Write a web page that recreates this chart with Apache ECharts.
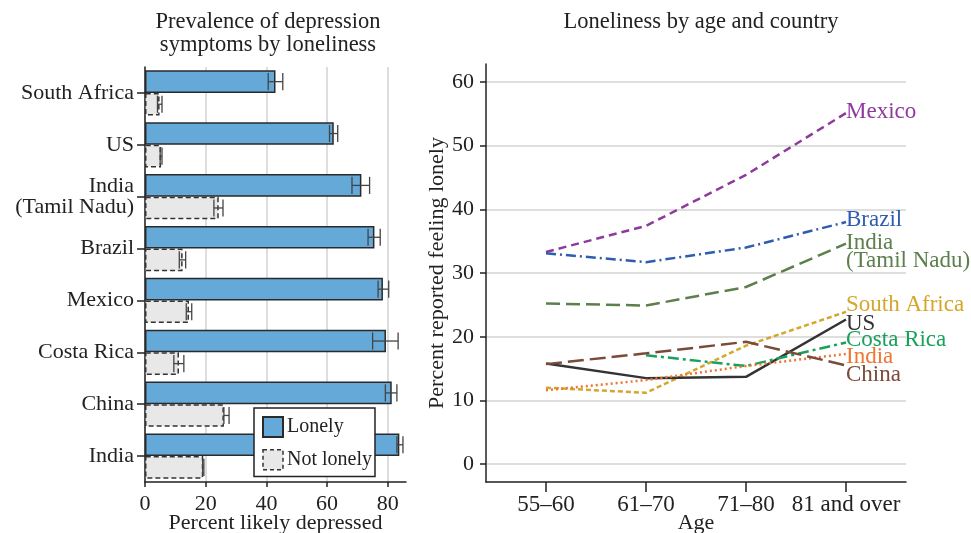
<!DOCTYPE html>
<html>
<head>
<meta charset="utf-8">
<script src="https://cdn.jsdelivr.net/npm/echarts@6/dist/echarts.min.js"></script>
<style>
html, body { margin: 0; padding: 0; background: #fff; }
#chart { width: 971px; height: 533px; }
</style>
</head>
<body>
<div id="chart"></div>
<script>
// left panel - depression by loneliness (top to bottom)
var countries = ['South Africa', 'US', 'India\n(Tamil Nadu)', 'Brazil', 'Mexico', 'Costa Rica', 'China', 'India'];
var lonely = [43.0, 62.2, 71.3, 75.6, 78.4, 79.4, 81.3, 83.8];
var lonelyLow = [40.6, 60.8, 68.2, 73.5, 76.8, 75.0, 79.2, 83.0];
var lonelyHigh = [45.4, 63.5, 74.0, 77.5, 80.3, 83.4, 83.0, 85.0];
var notLonely = [4.8, 5.3, 24.3, 12.4, 14.5, 11.2, 26.0, 19.2];
var notLonelyLow = [4.1, 5.0, 22.7, 11.3, 13.6, 9.5, 26.0, 19.0];
var notLonelyHigh = [5.6, 5.6, 25.7, 13.4, 15.4, 12.8, 27.7, 19.4];
var depTicks = [0, 20, 40, 60, 80];

// right panel - loneliness by age
var ages = ['55–60', '61–70', '71–80', '81 and over'];
var lonelyTicks = [0, 10, 20, 30, 40, 50, 60];
var mexico = [33.3, 37.4, 45.4, 55.1];
var brazil = [33.1, 31.7, 34.0, 38.0];
var indiaTN = [25.2, 24.9, 27.8, 34.6];
var southAfrica = [12.0, 11.2, 18.6, 23.9];
var us = [15.8, 13.5, 13.7, 22.7];
var costaRica = [null, 17.1, 15.4, 19.1];
var india = [11.6, 13.2, 15.4, 17.3];
var china = [15.7, 17.4, 19.2, 15.5];

var FONT = 'Liberation Serif';
var INK = '#222';
var GAP = 0.13;

var chart = echarts.init(document.getElementById('chart'));

function errorSeries(low, high, slot) {
  return {
    type: 'custom',
    xAxisIndex: 0, yAxisIndex: 0,
    z: 10, silent: true,
    data: low.map(function (l, i) { return [l, high[i], i]; }),
    encode: { x: [0, 1], y: 2 },
    renderItem: function (params, api) {
      var band = api.size([0, 1])[1];
      var barW = band * (1 - GAP) / 2;
      var p0 = api.coord([api.value(0), api.value(2)]);
      var p1 = api.coord([api.value(1), api.value(2)]);
      var y = p0[1] + slot * barW / 2;
      var h = barW * 0.38;
      var st = { stroke: '#444', lineWidth: 1.3 };
      return {
        type: 'group',
        children: [
          { type: 'line', shape: { x1: p0[0], y1: y, x2: p1[0], y2: y }, style: st },
          { type: 'line', shape: { x1: p0[0], y1: y - h, x2: p0[0], y2: y + h }, style: st },
          { type: 'line', shape: { x1: p1[0], y1: y - h, x2: p1[0], y2: y + h }, style: st }
        ]
      };
    }
  };
}

function lineSeries(name, label, values, color, dash, dy) {
  var pts = [];
  values.forEach(function (v, i) { if (v != null) pts.push([i, v]); });
  return {
    type: 'line', name: name,
    xAxisIndex: 1, yAxisIndex: 1,
    data: pts,
    symbol: 'none',
    lineStyle: { color: color, width: 2.5, type: dash },
    itemStyle: { color: color },
    endLabel: {
      show: true, formatter: label, color: color,
      fontFamily: FONT, fontSize: 23, lineHeight: 18,
      distance: 0, offset: [0, dy]
    }
  };
}

var tickText = { fontFamily: FONT, fontSize: 22, color: INK };

chart.setOption({
  animation: false,
  backgroundColor: '#fff',
  title: [
    { text: 'Prevalence of depression\nsymptoms by loneliness', left: 263, top: 6, textAlign: 'center',
      textStyle: { fontFamily: FONT, fontSize: 22.5, fontWeight: 'normal', color: INK, lineHeight: 23 } },
    { text: 'Loneliness by age and country', left: 696, top: 6, textAlign: 'center',
      textStyle: { fontFamily: FONT, fontSize: 22.5, fontWeight: 'normal', color: INK } }
  ],
  legend: {
    data: ['Lonely', { name: 'Not lonely', itemStyle: { borderType: [4, 3], borderColor: '#333', borderWidth: 1.5 } }],
    orient: 'vertical',
    left: 254, top: 408,
    padding: [8, 3, 6, 8],
    itemWidth: 20, itemHeight: 20, itemGap: 11,
    icon: 'rect',
    backgroundColor: '#fff',
    borderColor: INK, borderWidth: 1.5,
    textStyle: { fontFamily: FONT, fontSize: 20, color: INK, lineHeight: 20, padding: [0, 0, 0, -1] },
    selectedMode: false
  },
  grid: [
    { left: 145, top: 67, width: 261, height: 415, outerBoundsMode: 'none' },
    { left: 486, top: 64, width: 420, height: 418, outerBoundsMode: 'none' }
  ],
  xAxis: [
    {
      type: 'value', gridIndex: 0, min: 0, max: 86,
      name: 'Percent likely depressed', nameLocation: 'middle', nameGap: 30, nameMoveOverlap: false,
      nameTextStyle: tickText,
      axisLine: { show: true, onZero: false, lineStyle: { color: INK, width: 1.5 } },
      axisTick: { show: true, length: 5, customValues: depTicks, lineStyle: { color: INK, width: 1.5 } },
      axisLabel: Object.assign({ margin: 11, customValues: depTicks }, tickText),
      splitLine: { show: true, lineStyle: { color: '#d3d3d3', width: 1.5 } }
    },
    {
      type: 'value', gridIndex: 1, min: -0.6, max: 3.6,
      name: 'Age', nameLocation: 'middle', nameGap: 30, nameMoveOverlap: false,
      nameTextStyle: tickText,
      axisLine: { show: true, onZero: false, lineStyle: { color: INK, width: 1.5 } },
      axisTick: { show: true, length: 10, customValues: [0, 1, 2, 3], lineStyle: { color: INK, width: 1.5 } },
      axisLabel: Object.assign({ margin: 11, customValues: [0, 1, 2, 3],
        formatter: function (v) { return ages[Math.round(v)]; } }, tickText, { fontSize: 23 }),
      splitLine: { show: false }
    }
  ],
  yAxis: [
    {
      type: 'category', gridIndex: 0, inverse: true, data: countries,
      axisLine: { show: true, onZero: false, lineStyle: { color: INK, width: 1.5 } },
      axisTick: { show: true, alignWithLabel: true, length: 8, lineStyle: { color: INK, width: 1.5 } },
      axisLabel: Object.assign({ margin: 11, lineHeight: 21 }, tickText),
      splitLine: { show: false }
    },
    {
      type: 'value', gridIndex: 1, min: -2.8, max: 62.8,
      name: 'Percent reported feeling lonely', nameLocation: 'middle', nameGap: 38,
      nameTextStyle: tickText,
      axisLine: { show: true, onZero: false, lineStyle: { color: INK, width: 1.5 } },
      axisTick: { show: true, length: 6, customValues: lonelyTicks, lineStyle: { color: INK, width: 1.5 } },
      axisLabel: Object.assign({ margin: 12, customValues: lonelyTicks }, tickText),
      splitLine: { show: true, lineStyle: { color: '#d3d3d3', width: 1.5 } }
    }
  ],
  series: [
    {
      type: 'bar', name: 'Lonely', xAxisIndex: 0, yAxisIndex: 0,
      data: lonely, barGap: 0, barCategoryGap: (GAP * 100) + '%',
      itemStyle: { color: '#65a9d8', borderColor: '#2a2a2a', borderWidth: 1.5 }
    },
    {
      type: 'bar', name: 'Not lonely', xAxisIndex: 0, yAxisIndex: 0,
      data: notLonely, barGap: 0, barCategoryGap: (GAP * 100) + '%',
      itemStyle: { color: '#e8e8e8', borderColor: '#333', borderWidth: 1.5, borderType: [5, 3] }
    },
    errorSeries(lonelyLow, lonelyHigh, -1),
    errorSeries(notLonelyLow, notLonelyHigh, 1),
    lineSeries('Mexico', 'Mexico', mexico, '#8e3a9c', [8, 5], -1),
    lineSeries('Brazil', 'Brazil', brazil, '#2f5cae', [10, 4, 2, 4], -2),
    lineSeries('India (Tamil Nadu)', 'India\n(Tamil Nadu)', indiaTN, '#5c7f4c', [14, 6], 8),
    lineSeries('South Africa', 'South Africa', southAfrica, '#d4a72c', [5, 3], -7),
    lineSeries('US', 'US', us, '#333333', 'solid', 4),
    lineSeries('Costa Rica', 'Costa Rica', costaRica, '#17a15a', [11, 4, 3, 4], -3),
    lineSeries('India', 'India', india, '#ee7633', [2, 3], 3),
    lineSeries('China', 'China', china, '#7a4a3a', [16, 6], 10)
  ]
});
</script>
</body>
</html>
